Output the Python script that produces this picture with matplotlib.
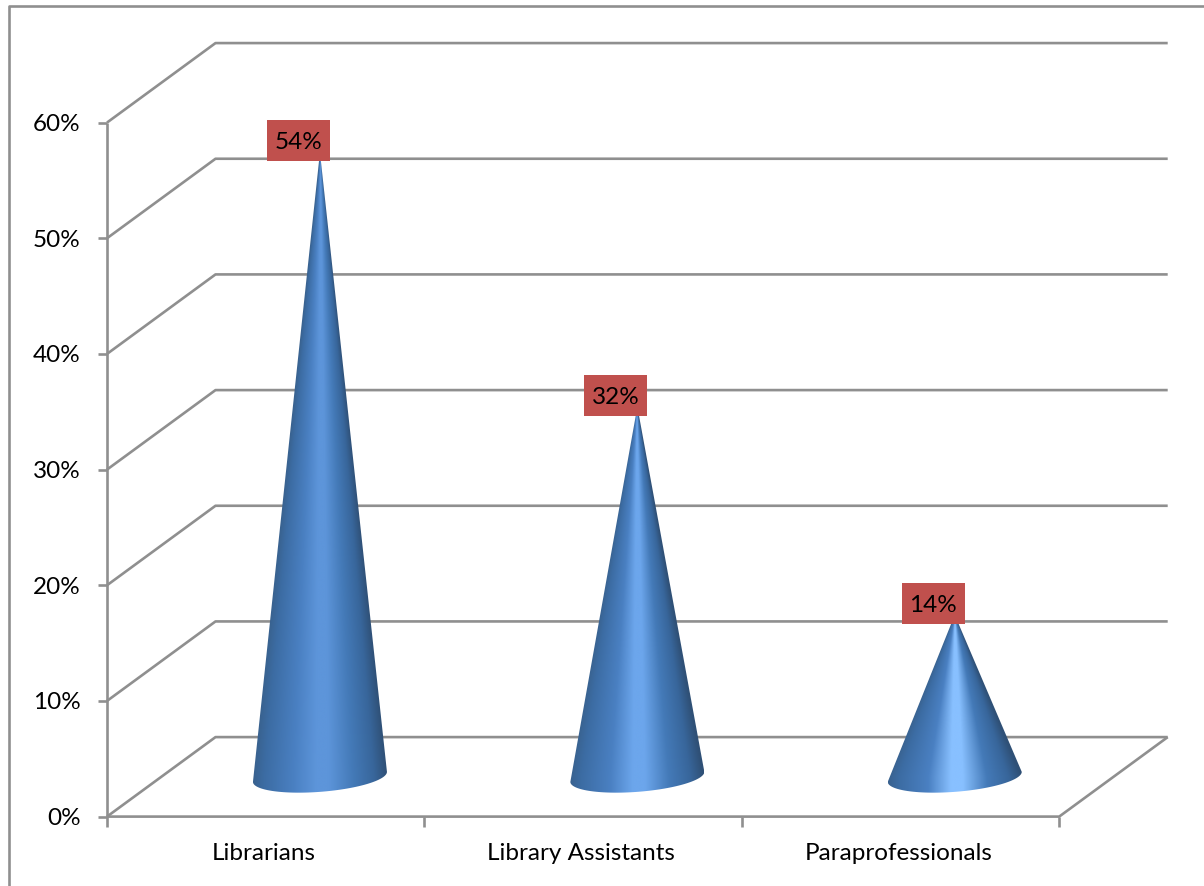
import numpy as np
import matplotlib
matplotlib.use("Agg")
import matplotlib.pyplot as plt
from matplotlib.colors import LinearSegmentedColormap
from matplotlib.patches import Polygon, Rectangle

categories = ["Librarians", "Library Assistants", "Paraprofessionals"]
values = [54, 32, 14]
value_ticks = [0, 10, 20, 30, 40, 50, 60]
highlights = ["#5d95da", "#6ca6ec", "#88c0ff"]

plt.rcParams["font.family"] = ["Lato", "DejaVu Sans"]

W, H = 1204, 886
LINE = "#8f8f8f"
BOX = "#c0504d"
FONT = 17.5

# Pixel calibration of the front plane: one category and one percent point
X0, CAT_PX = 107.0, 317.4
Y0, PCT_PX = 816.6, 11.567
DEPTH_X = 108.5 / CAT_PX
DEPTH_Y = 79.5 / PCT_PX

fig = plt.figure(figsize=(W / 100, H / 100), dpi=100, facecolor="white")
ax = fig.add_axes([0, 0, 1, 1])
ax.set_xlim(-X0 / CAT_PX, (W - X0) / CAT_PX)
ax.set_ylim(-(H - Y0) / PCT_PX, Y0 / PCT_PX)
ax.axis("off")

px_x = 1 / CAT_PX
px_y = 1 / PCT_PX
n = len(categories)
line_kw = dict(color=LINE, lw=1.9, solid_capstyle="butt", zorder=1)

# Chart frame, running off the right and bottom edges
ax.plot([ax.get_xlim()[1], (8.5 - X0) * px_x, (8.5 - X0) * px_x],
        [(Y0 - 5.5) * px_y, (Y0 - 5.5) * px_y, -(H - Y0) * px_y],
        color=LINE, lw=1.9, zorder=1)

# Back-wall gridlines and side-wall diagonals
for v in value_ticks:
    ax.plot([0, DEPTH_X, n + DEPTH_X], [v, v + DEPTH_Y, v + DEPTH_Y], **line_kw)
    ax.plot([-9 * px_x, 0], [v, v], **line_kw)

# Front axes, floor edge and ticks
ax.plot([0, 0], [0, value_ticks[-1]], **line_kw)
ax.plot([0, n, n + DEPTH_X], [0, 0, DEPTH_Y], **line_kw)
for i in range(n + 1):
    ax.plot([i, i], [0, -10 * px_y], **line_kw)

for v in value_ticks:
    ax.text(-26.5 * px_x, v, f"{v}%", ha="right", va="center_baseline",
            fontsize=FONT, color="black")
for i, name in enumerate(categories):
    ax.text(i + 0.5 - 2 * px_x, -35 * px_y, name, ha="center",
            va="center_baseline", fontsize=FONT, color="black")

# Cones: shading follows the fraction across the width at each height
half_w = 67 * px_x
semi_b = 15 * px_y
tilt = 5 * px_y
for i, (v, hi) in enumerate(zip(values, highlights)):
    cx = i + 0.5 + DEPTH_X / 2
    cy = DEPTH_Y / 2
    tip = cy + v
    t = np.linspace(0, np.pi, 80)
    ex = cx + half_w * np.cos(t)
    ey = cy + tilt * np.cos(t) - semi_b * np.sin(t)
    poly = Polygon(np.column_stack([np.r_[ex, cx], np.r_[ey, tip]]),
                   closed=True, transform=ax.transData, fc="none", ec="none")
    ax.add_patch(poly)

    cmap = LinearSegmentedColormap.from_list(
        f"cone{i}",
        [(0.0, "#39628f"), (0.08, "#3c6ca3"), (0.3, "#4a80c2"),
         (0.47, hi), (0.56, hi), (0.74, "#447ab8"), (0.9, "#38669b"),
         (1.0, "#2f5076")])
    xs = np.linspace(cx - half_w, cx + half_w, 400)
    ys = np.linspace(cy - 2 * semi_b, tip, 900)
    gx, gy = np.meshgrid(xs, ys)
    frac = np.clip((tip - gy) / (tip - cy), 0.002, 1.0)
    u = np.clip((gx - cx) / (half_w * frac), -1, 1)
    im = ax.imshow((u + 1) / 2, extent=[xs[0], xs[-1], ys[0], ys[-1]],
                   origin="lower", cmap=cmap, vmin=0, vmax=1,
                   aspect="auto", interpolation="bilinear", zorder=3)
    im.set_clip_path(poly)

    # Value label in a filled box beside the apex
    lx = cx - 21.5 * px_x
    ly = v + 51.3 * px_y
    ax.add_patch(Rectangle((lx - 31.5 * px_x, ly - 20.5 * px_y),
                           63 * px_x, 41 * px_y, fc=BOX, ec="none", zorder=4))
    ax.text(lx, ly, f"{v}%", ha="center", va="center_baseline",
            fontsize=FONT, color="black", zorder=5)

ax.set_xlim(-X0 / CAT_PX, (W - X0) / CAT_PX)
ax.set_ylim(-(H - Y0) / PCT_PX, Y0 / PCT_PX)
fig.savefig("out.png", dpi=100, facecolor="white")
